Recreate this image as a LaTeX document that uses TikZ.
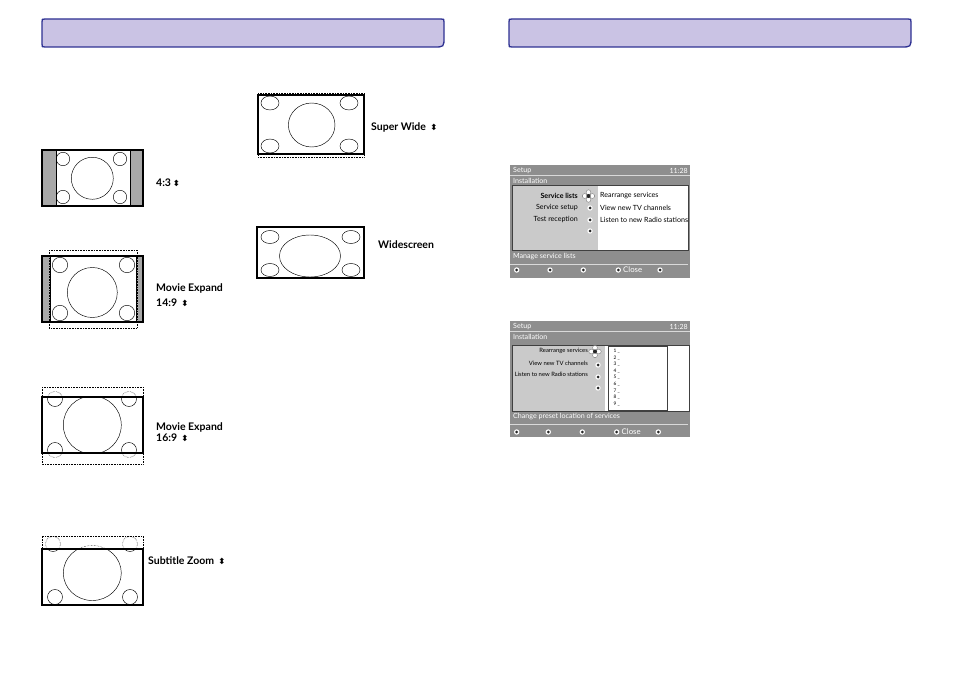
\documentclass[tikz,border=0pt]{standalone}
\usepackage{fontspec}
\setmainfont{Lato}
\newfontfamily\symfont{DejaVu Sans}
\usepackage{tikz}
\usetikzlibrary{positioning,calc}

\definecolor{barfill}{HTML}{CAC3E4}
\definecolor{barline}{HTML}{2E3192}
\definecolor{tvgray}{HTML}{A8A8A8}
\definecolor{scrgray}{HTML}{8E8E8E}
\definecolor{panegray}{HTML}{CACACA}

\newcommand\updn{\,{\symfont\fontsize{8.5}{8.5}\selectfont ⬍}}
\newcommand\menudot[1]{\fill[white] (#1) circle (2.7pt); \fill[black!85] (#1) circle (1.5pt);}
\newcommand\navpad[1]{%
  \foreach \a in {0,90,180,270}
    \filldraw[fill=white, draw=black!60, line width=0.3pt] ($(#1)+(\a:3.8pt)$) circle (2.4pt);
  \fill[black!85] (#1) circle (2pt);}

\begin{document}
\begin{tikzpicture}[x=1pt, y=-1pt,
  every node/.style={inner sep=0pt},
  lbl/.style={font=\fontsize{10.5}{12}\selectfont\bfseries, anchor=west},
  mtxt/.style={font=\fontsize{7.1}{8}\selectfont},
  stxt/.style={font=\fontsize{5.9}{6}\selectfont},
  tvframe/.style={draw, line width=1.1pt},
  dotframe/.style={draw, densely dotted, line width=0.6pt},
  pic/.style={draw, line width=0.45pt}]
  \useasboundingbox (0,0) rectangle (954,674);

  % header bars
  \foreach \hx in {0,467}
    \draw[barline, fill=barfill, line width=1.3pt, xshift=\hx pt]
      (45,19) -- (441,19) .. controls (444,19) .. (444,22) -- (444,37)
      .. controls (444,47) .. (434,47) -- (45,47) .. controls (42,47) .. (42,44)
      -- (42,22) .. controls (42,19) .. (45,19) -- cycle;

  % 4:3
  \fill[tvgray] (42,150) rectangle (56,206) (130,150) rectangle (143,206);
  \draw[pic] (56,150) -- (56,206) (130,150) -- (130,206);
  \foreach \p in {(63,159),(120,159),(63,197),(120,197)} \draw[pic] \p circle (6.7pt);
  \draw[pic] (92.3,178.3) circle (21pt);
  \draw[tvframe] (42,150) rectangle (143,206);
  \node[lbl] (fourthree) at (156,183) {4:3\updn};

  % movie expand 14:9
  \fill[tvgray] (42,256) rectangle (50.5,322) (136,256) rectangle (143,322);
  \draw[pic] (50.5,256) -- (50.5,322) (136,256) -- (136,322);
  \foreach \p in {(60,265),(127,265),(60,313),(127,313)} \draw[pic] \p circle (7.7pt);
  \draw[pic] (92.3,292.5) circle (25pt);
  \draw[dotframe] (49,250) rectangle (137,328);
  \draw[tvframe] (42,256) rectangle (143,322);
  \node[lbl] (mexpA) at (156,288) {Movie Expand};
  \node[lbl, below right=6pt and 0pt of mexpA.south west] (fourteen) {14:9 \updn};

  % movie expand 16:9
  \begin{scope}
    \clip (42,397) rectangle (143,453);
    \foreach \p in {(55,399),(129,399),(55,450),(129,450)} \draw[pic] \p circle (7.5pt);
    \draw[pic] (92.3,425) circle (29pt);
  \end{scope}
  \begin{scope}
    \clip (42,386) rectangle (143,397) (42,453) rectangle (143,465);
    \foreach \p in {(55,399),(129,399),(55,450),(129,450)} \draw[pic, densely dotted] \p circle (7.5pt);
  \end{scope}
  \draw[dotframe] (42,387) rectangle (143,464);
  \draw[tvframe] (42,397) rectangle (143,453);
  \node[lbl] (mexpB) at (156,427) {Movie Expand};
  \node[lbl, below right=2pt and 0pt of mexpB.south west] (sixteen) {16:9 \updn};

  % subtitle zoom
  \begin{scope}
    \clip (42,549) rectangle (143,605);
    \foreach \p in {(53,544),(130,544),(55,597),(130,597)} \draw[pic] \p circle (7.5pt);
    \draw[pic] (92.3,573) ellipse [x radius=29pt, y radius=27.5pt];
  \end{scope}
  \begin{scope}
    \clip (42,535) rectangle (143,549);
    \foreach \p in {(53,544),(130,544)} \draw[pic, densely dotted] \p circle (7.5pt);
    \draw[pic, densely dotted] (92.3,573) ellipse [x radius=29pt, y radius=27.5pt];
  \end{scope}
  \draw[dotframe] (42,549) -- (42,536) -- (143,536) -- (143,549);
  \draw[tvframe] (42,549) rectangle (143,605);
  \node[lbl] (subzoom) at (148,561) {Subtitle Zoom \updn};

  % super wide
  \foreach \p in {(270,103),(349,103),(270,146),(349,146)}
    \draw[pic] \p ellipse [x radius=9pt, y radius=7pt];
  \draw[pic] (311.7,125) ellipse [x radius=23.3pt, y radius=22pt];
  \draw[dotframe] (258,93) rectangle (364,157);
  \draw[tvframe] (258,95) rectangle (364,154);
  \draw[line width=2pt] (258,95) -- (364,95);
  \node[lbl] (superwide) at (371,127) {Super Wide \updn};

  % widescreen
  \foreach \p in {(270,237),(351,237),(270,270),(351,270)}
    \draw[pic] \p ellipse [x radius=9pt, y radius=6.5pt];
  \draw[pic] (310,256) ellipse [x radius=30.5pt, y radius=21pt];
  \draw[tvframe] (257,227) rectangle (364,278);
  \draw[line width=2pt] (257,227) -- (364,227);
  \node[lbl] (widescreen) at (378,245) {Widescreen};

  % setup menu: service lists
  \fill[scrgray] (510,165) rectangle (690,278);
  \draw[black!15, line width=0.5pt] (510,175.5) -- (690,175.5);
  \node[mtxt, white, anchor=west] (setupA) at (513,170.5) {Setup};
  \node[mtxt, white, anchor=east] (clockA) at (688,170.5) {11:28};
  \node[mtxt, white, anchor=west] (instA) at (513,180.5) {Installation};
  \fill[panegray] (512.5,185.5) rectangle (598,250);
  \fill[white] (598,185.5) rectangle (688.5,250);
  \draw[black!75, line width=0.6pt] (512.5,185.5) rectangle (688.5,250);
  \node[mtxt, font=\fontsize{7.1}{8}\selectfont\bfseries, anchor=east] (svlists) at (578,196) {Service lists};
  \node[mtxt, anchor=east] (svsetup) at (578,208) {Service setup};
  \node[mtxt, anchor=east] (testrec) at (578,220) {Test reception};
  \navpad{588.5,196}
  \foreach \yy in {208,220,231} {\menudot{590,\yy}}
  \node[mtxt, anchor=west] (rearrA) at (600,196) {Rearrange services};
  \node[mtxt, anchor=west] (viewtvA) at (600,208) {View new TV channels};
  \node[mtxt, anchor=west] (radioA) at (600,220) {Listen to new Radio stations};
  \node[mtxt, white, anchor=west] (manage) at (513,257) {Manage service lists};
  \draw[black!15, line width=0.5pt] (510,264) -- (688,264);
  \foreach \xx in {516.7,550,583.3,618.3,660} {\menudot{\xx,270}}
  \node[mtxt, white, anchor=west, font=\fontsize{7.8}{8}\selectfont] (closeA) at (623,270) {Close};

  % setup menu: rearrange services
  \fill[scrgray] (510,321) rectangle (690,437);
  \draw[black!15, line width=0.5pt] (510,331.5) -- (690,331.5);
  \node[mtxt, white, anchor=west] (setupB) at (513,326.5) {Setup};
  \node[mtxt, white, anchor=east] (clockB) at (688,326.5) {11:28};
  \node[mtxt, white, anchor=west] (instB) at (513,337) {Installation};
  \fill[panegray] (512,345) rectangle (605,411.5);
  \fill[white] (605,345) rectangle (689,411.5);
  \draw[black!75, line width=0.6pt] (512,345) rectangle (689,411.5);
  \draw[black!75, line width=0.5pt] (608.5,346.5) rectangle (667.5,410);
  \node[stxt, anchor=east] (rearrB) at (588,351) {Rearrange services};
  \node[stxt, anchor=east] (viewtvB) at (588,363) {View new TV channels};
  \node[stxt, anchor=east] (radioB) at (588,374) {Listen to new Radio stations};
  \navpad{595,351.5}
  \foreach \yy in {365,377,388} {\menudot{598,\yy}}
  \foreach \n in {1,...,9}
    \node[font=\fontsize{4.8}{5}\selectfont, anchor=west] (slot\n) at (613.5,{344.5+6.6*\n}) {\n\ \_};
  \node[mtxt, white, anchor=west] (preset) at (513,417) {Change preset location of services};
  \draw[black!15, line width=0.5pt] (510,424) -- (688,424);
  \foreach \xx in {516.7,548.3,582.3,616.7,658.3} {\menudot{\xx,432}}
  \node[mtxt, white, anchor=west, font=\fontsize{7.8}{8}\selectfont] (closeB) at (621.5,432) {Close};
\end{tikzpicture}
\end{document}
